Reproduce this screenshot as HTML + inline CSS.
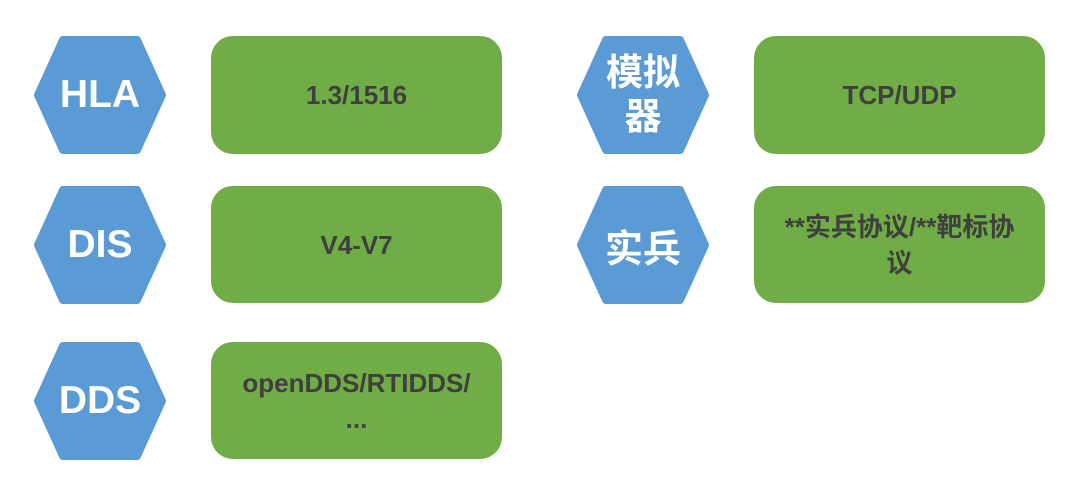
<!DOCTYPE html>
<html><head><meta charset="utf-8"><style>
body{margin:0;width:1080px;height:491px;background:#fff;overflow:hidden;position:relative;font-family:"Liberation Sans","Noto Sans CJK SC",sans-serif}
svg{position:absolute;left:0;top:0}
.b{position:absolute;background:#70ad47;border-radius:22px;display:flex;align-items:center;justify-content:center;text-align:center;color:#3f3f3f;font-weight:bold;font-size:26px;line-height:36px}
.h{position:absolute;width:132px;display:flex;align-items:center;justify-content:center;color:#fff;font-weight:bold;font-size:39px;text-align:center}
</style></head><body>
<svg width="1080" height="491">
<g fill="#5b9bd5" stroke="#5b9bd5" stroke-width="8" stroke-linejoin="round">
<polygon points="38,95 63,40 137,40 162,95 137,150 63,150"/>
<polygon points="38,245 63,190 137,190 162,245 137,300 63,300"/>
<polygon points="38,401 63,346 137,346 162,401 137,456 63,456"/>
<polygon points="581,95 606,40 680,40 705,95 680,150 606,150"/>
<polygon points="581,245 606,190 680,190 705,245 680,300 606,300"/>
</g></svg>
<div class="h" style="left:34px;top:36px;height:118px">HLA</div>
<div class="h" style="left:34px;top:186px;height:118px">DIS</div>
<div class="h" style="left:34px;top:342px;height:118px">DDS</div>
<div class="h" style="left:577px;top:36px;height:118px;line-height:44px;font-size:37px">模拟<br>器</div>
<div class="h" style="left:577px;top:186px;height:118px;font-size:38px">实兵</div>
<div class="b" style="left:211px;top:36px;width:291px;height:118px">1.3/1516</div>
<div class="b" style="left:211px;top:186px;width:291px;height:117px">V4-V7</div>
<div class="b" style="left:211px;top:342px;width:291px;height:117px">openDDS/RTIDDS/<br>...</div>
<div class="b" style="left:754px;top:36px;width:291px;height:118px">TCP/UDP</div>
<div class="b" style="left:754px;top:186px;width:291px;height:117px;font-size:26px">**实兵协议/**靶标协<br>议</div>
</body></html>
